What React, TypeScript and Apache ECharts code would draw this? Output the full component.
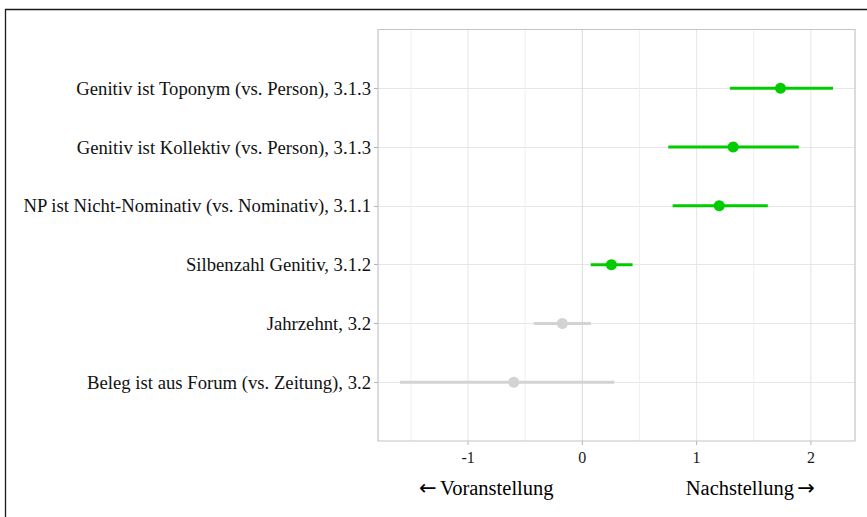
import React, { useEffect, useRef } from "react";
import * as echarts from "echarts";

// Rows from top to bottom
const labels = [
  "Genitiv ist Toponym (vs. Person), 3.1.3",
  "Genitiv ist Kollektiv (vs. Person), 3.1.3",
  "NP ist Nicht-Nominativ (vs. Nominativ), 3.1.1",
  "Silbenzahl Genitiv, 3.1.2",
  "Jahrzehnt, 3.2",
  "Beleg ist aus Forum (vs. Zeitung), 3.2",
];
const estimates = [1.734, 1.32, 1.198, 0.254, -0.175, -0.6];
const lower = [1.291, 0.752, 0.79, 0.073, -0.425, -1.596];
const upper = [2.194, 1.894, 1.623, 0.44, 0.076, 0.28];
const xTicks = [-1, 0, 1, 2];
const leftTitle = "Voranstellung";
const rightTitle = "Nachstellung";

const GREEN = "#00cc00";
const GRAY = "#d3d3d3";
const FONT = "'Liberation Serif', 'DejaVu Serif', serif";

export default function App() {
  const ref = useRef<HTMLDivElement>(null);
  useEffect(() => {
    if (!ref.current) return;
    const chart = echarts.init(ref.current, null, { renderer: "svg" });
    const n = labels.length;
    const cats = ["", ...labels.slice().reverse(), ""];
    const idxOf = (i: number) => n - i;
    const colorOf = (i: number) => (lower[i] > 0 || upper[i] < 0 ? GREEN : GRAY);

    const ciData = labels.map((_, i) => [lower[i], upper[i], idxOf(i), i]);
    const ptData = labels.map((_, i) => ({
      value: [estimates[i], idxOf(i)],
      itemStyle: { color: colorOf(i), opacity: 1 },
    }));

    const gridLeft = 378;
    const gridTop = 29.5;
    const gridW = 477;
    const gridH = 411.5;
    const xMin = -1.788;
    const xMax = 2.386;
    const px = (v: number) => gridLeft + ((v - xMin) / (xMax - xMin)) * gridW;

    const arrowRich = {
      arr: { fontFamily: "'DejaVu Sans', sans-serif", fontSize: 21, color: "#111" },
      t: { fontFamily: FONT, fontSize: 20.5, color: "#111" },
    };

    chart.setOption({
      animation: false,
      backgroundColor: "#ffffff",
      grid: { left: gridLeft, top: gridTop, width: gridW, height: gridH, containLabel: false },
      xAxis: {
        type: "value",
        min: xMin,
        max: xMax,
        interval: 1,
        axisLine: { show: false, onZero: false },
        axisTick: { show: false },
        axisLabel: { show: false },
        splitLine: { show: false },
      },
      yAxis: {
        type: "category",
        data: cats,
        boundaryGap: false,
        axisLine: { show: false, onZero: false },
        axisTick: {
          show: true,
          length: 4,
          lineStyle: { color: "#b3b3b3", width: 1 },
          interval: (index: number) => index > 0 && index < cats.length - 1,
        },
        axisLabel: {
          color: "#111",
          fontSize: 18.7,
          fontFamily: FONT,
          margin: 7,
          interval: 0,
        },
        splitLine: {
          show: true,
          lineStyle: { color: "#e6e6e6", width: 1 },
          interval: (index: number) => index > 0 && index < cats.length - 1,
        },
      },
      series: [
        {
          type: "custom",
          data: xTicks.map((t) => [t]),
          silent: true,
          z: 1,
          renderItem: (params: any, api: any) => {
            const t = api.value(0);
            const cs = params.coordSys;
            const p = api.coord([t, 0]);
            const pm = api.coord([t - 0.5, 0]);
            const children: any[] = [];
            children.push({
              type: "line",
              shape: { x1: p[0], y1: cs.y, x2: p[0], y2: cs.y + cs.height },
              style: { stroke: t === 0 ? "#dadada" : "#e6e6e6", lineWidth: 1 },
            });
            children.push({
              type: "line",
              shape: { x1: pm[0], y1: cs.y, x2: pm[0], y2: cs.y + cs.height },
              style: { stroke: "#efefef", lineWidth: 1 },
            });
            children.push({
              type: "line",
              shape: { x1: p[0], y1: cs.y + cs.height, x2: p[0], y2: cs.y + cs.height + 4 },
              style: { stroke: "#b3b3b3", lineWidth: 1 },
            });
            children.push({
              type: "text",
              style: {
                text: String(t),
                x: p[0],
                y: cs.y + cs.height + 16,
                textAlign: "center",
                textVerticalAlign: "middle",
                fontSize: 16,
                fontFamily: FONT,
                fill: "#1a1a1a",
              },
            });
            return { type: "group", children };
          },
        },
        {
          type: "custom",
          data: ciData,
          z: 3,
          renderItem: (params: any, api: any) => {
            const lo = api.value(0);
            const hi = api.value(1);
            const c = api.value(2);
            const i = api.value(3);
            const a = api.coord([lo, c]);
            const b = api.coord([hi, c]);
            return {
              type: "line",
              shape: { x1: a[0], y1: a[1], x2: b[0], y2: b[1] },
              style: { stroke: colorOf(i), lineWidth: 3 },
            };
          },
        },
        {
          type: "scatter",
          data: ptData,
          symbol: "circle",
          symbolSize: 11,
          itemStyle: { opacity: 1 },
          z: 4,
        },
      ],
      graphic: [
        {
          type: "rect",
          shape: { x: gridLeft, y: gridTop, width: gridW, height: gridH },
          style: { fill: "none", stroke: "#c4c4c4", lineWidth: 1.2 },
          z: 10,
          silent: true,
        },
        {
          type: "polyline",
          shape: { points: [[5.5, 520], [5.5, 9.5], [870, 9.5]] },
          style: { fill: "none", stroke: "#1a1a1a", lineWidth: 1.3 },
          silent: true,
        },
        {
          type: "text",
          style: {
            text: "{arr|←} {t|" + leftTitle + "}",
            rich: arrowRich,
            x: px(-0.84),
            y: 488,
            textAlign: "center",
            textVerticalAlign: "middle",
          },
        },
        {
          type: "text",
          style: {
            text: "{t|" + rightTitle + "} {arr|→}",
            rich: arrowRich,
            x: px(1.47),
            y: 488,
            textAlign: "center",
            textVerticalAlign: "middle",
          },
        },
      ],
    });
    return () => chart.dispose();
  }, []);
  return (
    <div
      ref={ref}
      style={{ position: "absolute", left: 0, top: 0, width: 867, height: 517 }}
    />
  );
}
